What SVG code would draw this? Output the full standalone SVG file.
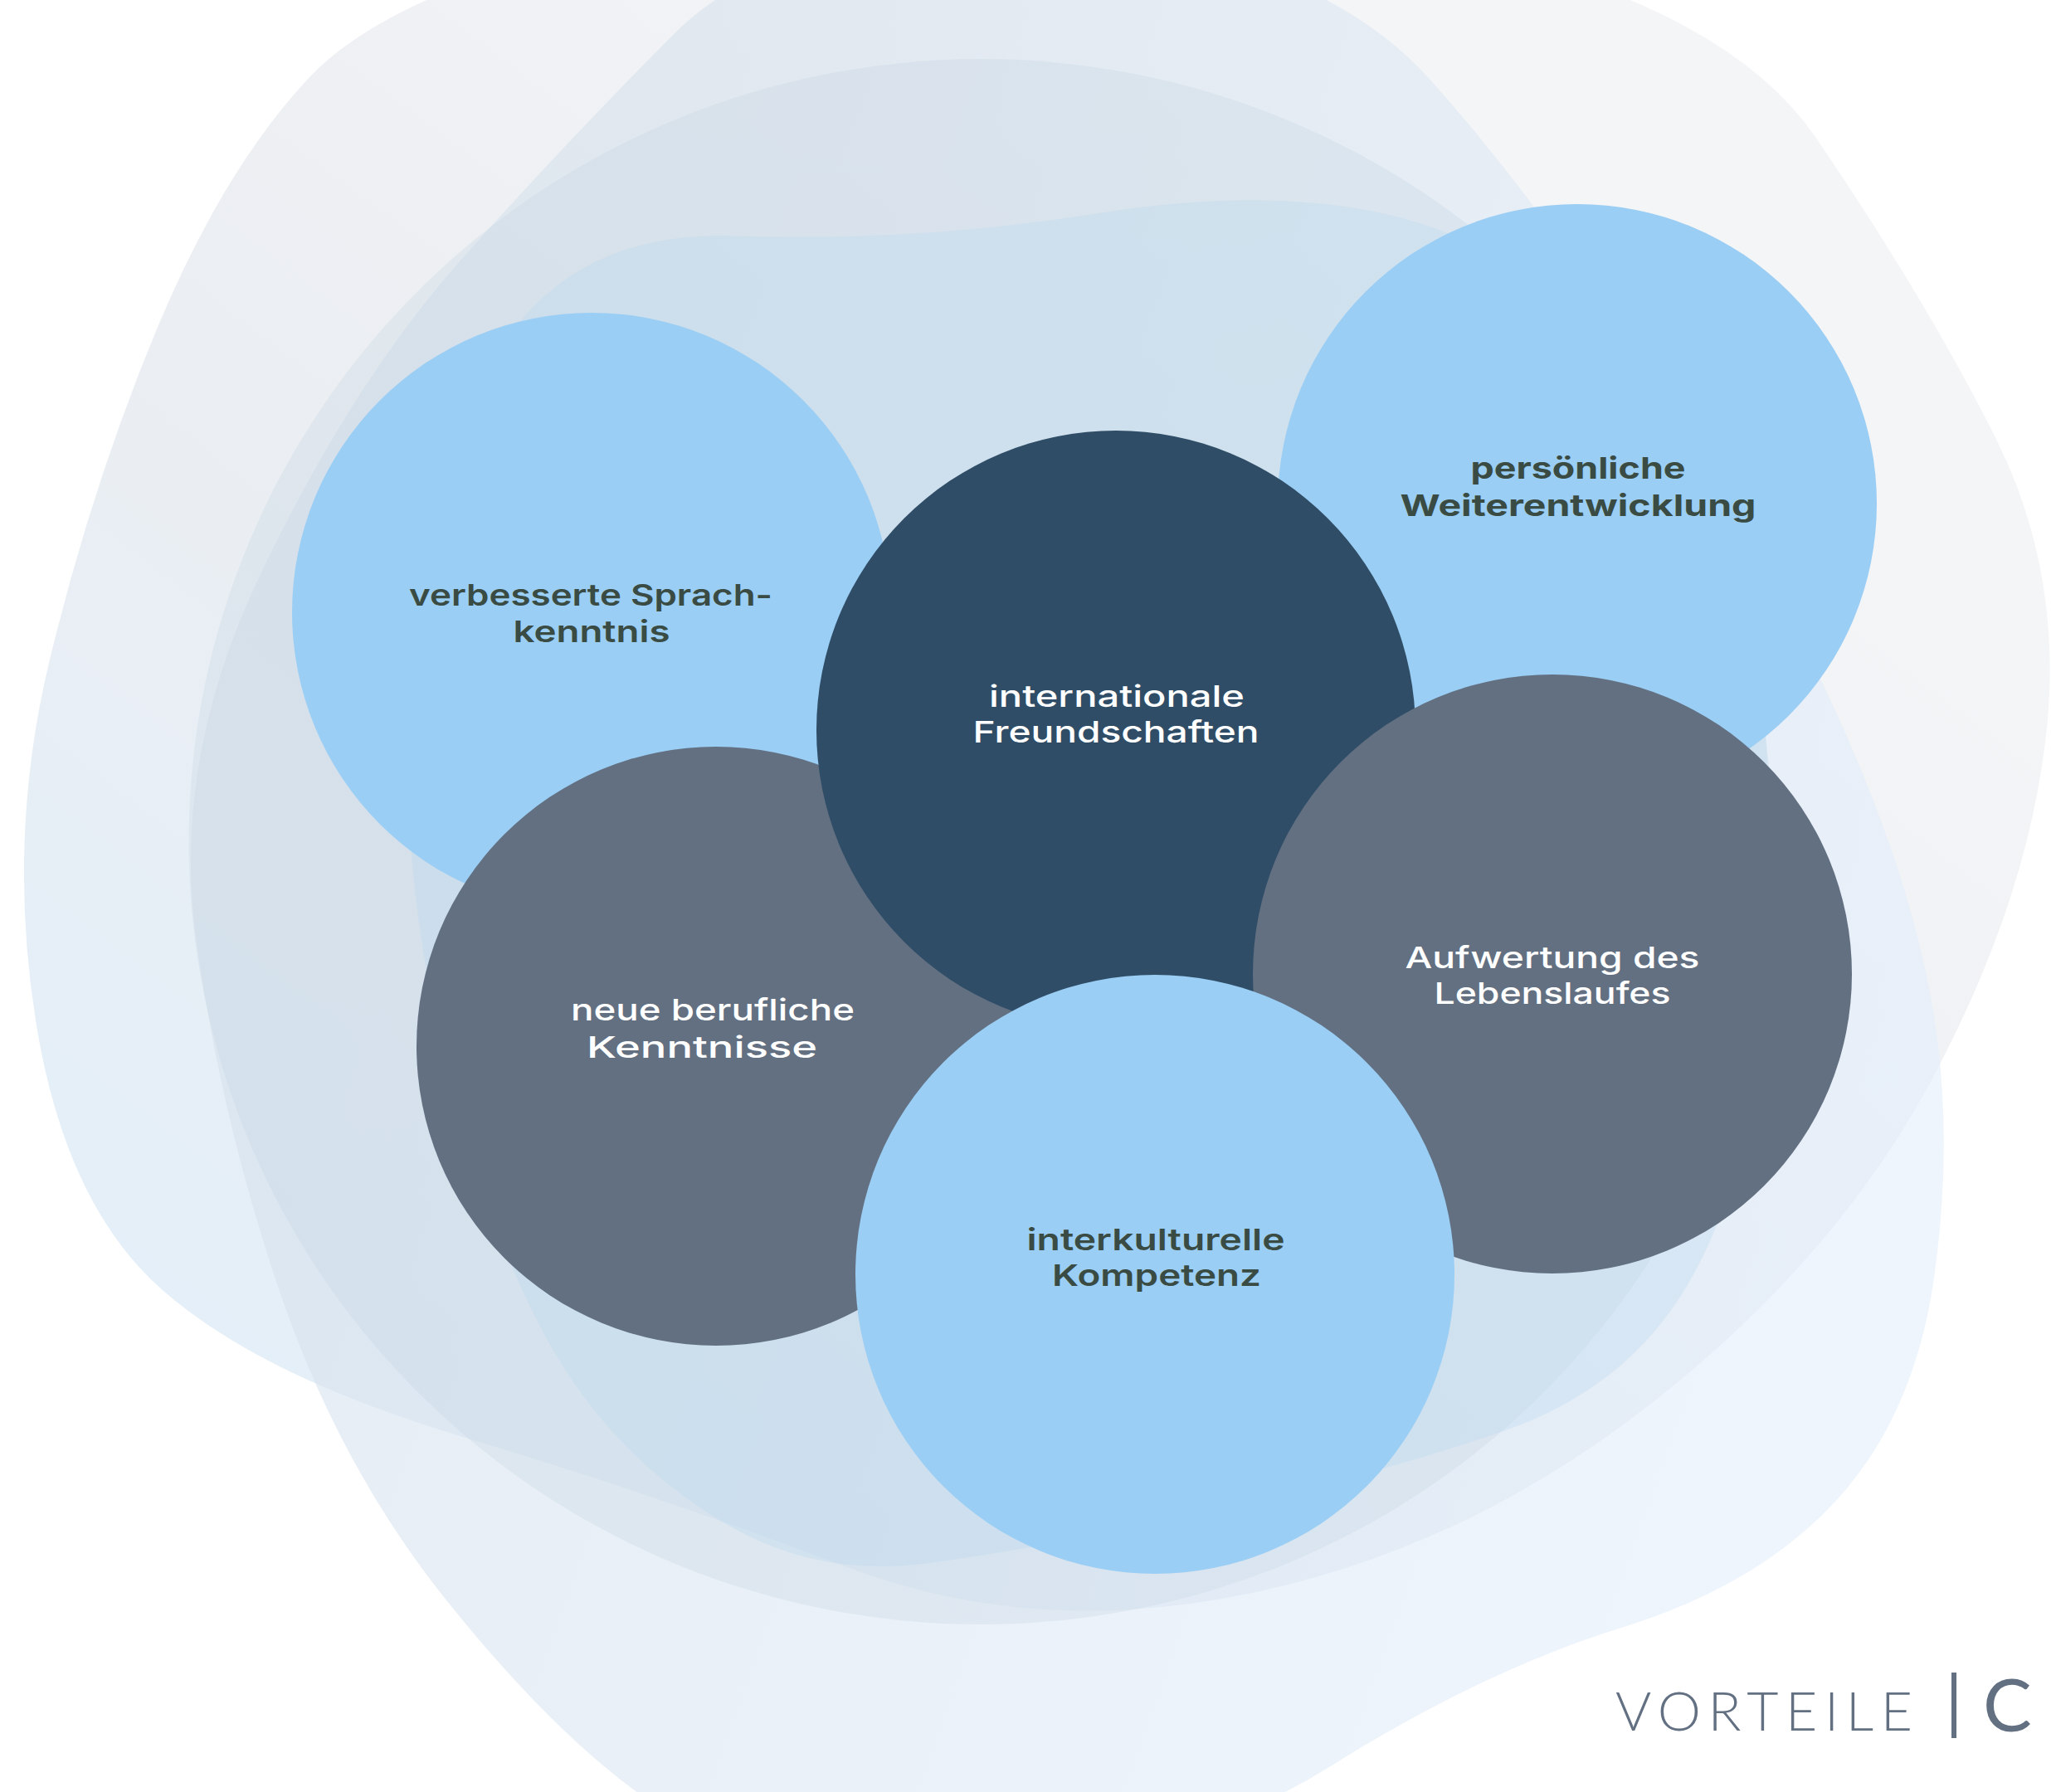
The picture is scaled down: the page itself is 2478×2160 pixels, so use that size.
<svg xmlns="http://www.w3.org/2000/svg" width="2478" height="2160" viewBox="0 0 2478 2160">
<defs>
<linearGradient id="gL1" gradientUnits="userSpaceOnUse" x1="900" y1="0" x2="100" y2="1050">
<stop offset="0" stop-color="#f4f5f7"/><stop offset="0.5" stop-color="#ebeef2"/><stop offset="1" stop-color="#e3eff9"/>
</linearGradient>
<linearGradient id="gS1" gradientUnits="userSpaceOnUse" x1="300" y1="600" x2="1400" y2="1000">
<stop offset="0" stop-color="#d6e1ec"/><stop offset="1" stop-color="#e3eefb"/>
</linearGradient>
<style>
.lb{fill:#9bcef4}
.dk{fill:#2f4d66}
.gr{fill:#627082}
.t{font-family:Inter,"Open Sans","Liberation Sans",sans-serif;font-size:36px;text-anchor:middle}
.td{fill:#394b42;font-weight:600}
.tw{fill:#ffffff;font-weight:500}
</style>
</defs>
<rect width="2478" height="2160" fill="#ffffff"/>
<g id="background" transform="scale(1.5803)">
<path fill="url(#gL1)" d="M 500,-55 Q 300,-10 235,60 Q 170,130 120,250 Q 70,370 37.5,505 Q 5,640 27.5,780 Q 50,920 125,985 Q 200,1050 350,1095 Q 500,1140 645,1195 Q 790,1250 955,1215 Q 1120,1180 1260,1070 Q 1400,960 1472.5,825 Q 1545,690 1560,565 Q 1575,440 1522.5,335 Q 1470,230 1385,105 Q 1300,-20 1000,-60 Q 700,-100 500,-55 Z"/>
<path fill="url(#gS1)" opacity="0.6" d="M 800,-50 Q 600,-60 515,25 Q 430,110 350,200 Q 270,290 200,435 Q 130,580 150,720 Q 170,860 215,990 Q 260,1120 340,1220 Q 420,1320 490,1370 Q 560,1420 730,1420 Q 900,1420 1015,1347 Q 1130,1275 1235,1242 Q 1340,1210 1400,1145 Q 1460,1080 1475,975 Q 1490,870 1475,775 Q 1460,680 1410,565 Q 1360,450 1270,305 Q 1180,160 1090,60 Q 1000,-40 800,-50 Z"/>
<ellipse cx="748" cy="642" rx="604" ry="597" fill="#c3d3e2" opacity="0.3"/>
<path fill="#b7d6f0" opacity="0.3" d="M 560,180 Q 700,185 842,162 Q 985,140 1082,170 Q 1180,200 1255,300 Q 1330,400 1342,510 Q 1355,620 1345,760 Q 1335,900 1287,980 Q 1240,1060 1145,1092 Q 1050,1125 925,1152 Q 800,1180 710,1192 Q 620,1205 545,1157 Q 470,1110 425,1035 Q 380,960 345,830 Q 310,700 310,560 Q 310,420 365,297 Q 420,175 560,180 Z"/>
</g>
<g id="connectors"/>
<g id="node-sprachkenntnis">
<circle class="lb" cx="713" cy="738" r="361"/>
<text class="t td" x="712" y="730" textLength="438" lengthAdjust="spacingAndGlyphs">verbesserte Sprach-</text>
<text class="t td" x="713" y="774" textLength="189" lengthAdjust="spacingAndGlyphs">kenntnis</text>
</g>
<g id="node-weiterentwicklung">
<circle class="lb" cx="1901" cy="607" r="361"/>
<text class="t td" style="font-weight:700" x="1902" y="577" textLength="259" lengthAdjust="spacingAndGlyphs">persönliche</text>
<text class="t td" style="font-weight:700" x="1902" y="622" textLength="429" lengthAdjust="spacingAndGlyphs">Weiterentwicklung</text>
</g>
<g id="node-berufliche">
<circle class="gr" cx="863" cy="1261" r="361"/>
<text class="t tw" x="859" y="1230" textLength="342" lengthAdjust="spacingAndGlyphs">neue berufliche</text>
<text class="t tw" x="846" y="1275" textLength="278" lengthAdjust="spacingAndGlyphs">Kenntnisse</text>
</g>
<g id="node-freundschaften">
<circle class="dk" cx="1345" cy="880" r="361"/>
<text class="t tw" x="1346" y="852" textLength="308" lengthAdjust="spacingAndGlyphs">internationale</text>
<text class="t tw" x="1345" y="895" textLength="345" lengthAdjust="spacingAndGlyphs">Freundschaften</text>
</g>
<g id="node-lebenslauf">
<circle class="gr" cx="1871" cy="1174" r="361"/>
<text class="t tw" x="1871" y="1167" textLength="355" lengthAdjust="spacingAndGlyphs">Aufwertung des</text>
<text class="t tw" x="1871" y="1210" textLength="285" lengthAdjust="spacingAndGlyphs">Lebenslaufes</text>
</g>
<g id="node-kompetenz">
<circle class="lb" cx="1392" cy="1536" r="361"/>
<text class="t td" x="1393" y="1507" textLength="311" lengthAdjust="spacingAndGlyphs">interkulturelle</text>
<text class="t td" x="1394" y="1550" textLength="252" lengthAdjust="spacingAndGlyphs">Kompetenz</text>
</g>
<g id="title">
<text x="1947" y="2086" font-family="Lato,'Liberation Sans',sans-serif" font-weight="300" font-size="66" fill="#627082" textLength="358" lengthAdjust="spacing">VORTEILE</text>
<rect x="2352" y="2016" width="6" height="79" fill="#627082"/>
<text x="2390" y="2087" font-family="Lato,'Liberation Sans',sans-serif" font-size="88" fill="#627082">C</text>
</g>
</svg>
